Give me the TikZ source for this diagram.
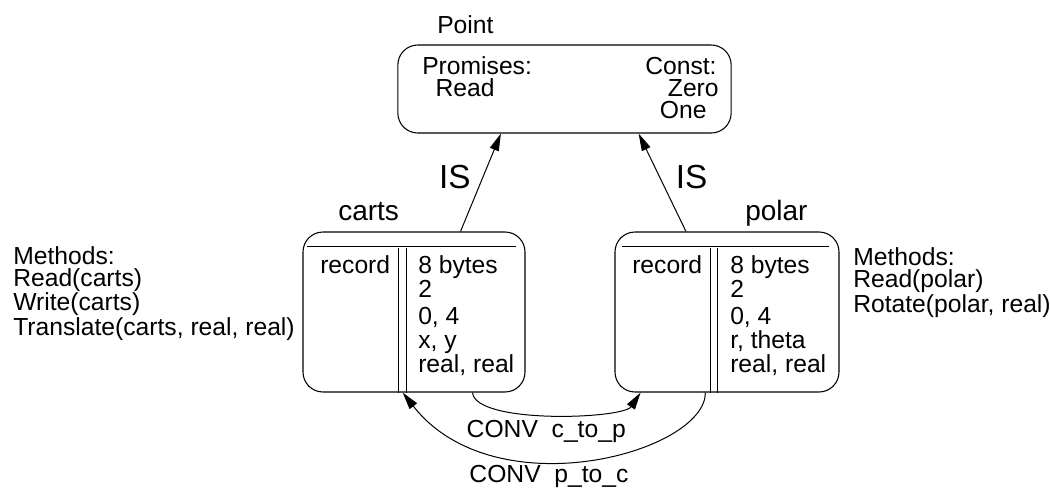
\documentclass[tikz,border=0pt]{standalone}
\usepackage{fontspec}
\setmainfont{Liberation Sans}
\usetikzlibrary{arrows.meta, positioning}

\begin{document}
\begin{tikzpicture}[
    x=0.75pt, y=-0.75pt,
    %% -- Node styles ------------------------------------------------------
    %%
    %% typebox: rounded frame of a type (Point, carts, polar)
    typebox/.style={
        draw,
        rounded corners=15pt,
        line width=0.8pt,
        inner sep=0pt,
        minimum height=120pt,
    },
    %% txt: plain text, placed on its last baseline
    txt/.style={
        inner sep=0pt,
        align=left,
        anchor=base west,
        font=\fontsize{18.5}{16.3}\selectfont,
    },
    boxtxt/.style={txt, font=\fontsize{18.5}{18}\selectfont},
    title/.style={txt, font=\fontsize{21}{24}\selectfont},
    %% -- Edge styles ------------------------------------------------------
    link/.style={
        -{Triangle[length=13pt, width=7pt]},
        line width=0.75pt,
    },
    elabel/.style={inner sep=0pt, font=\fontsize{18.5}{18}\selectfont},
    islabel/.style={inner sep=0pt, font=\fontsize{25}{28}\selectfont},
]
\useasboundingbox (0,0) rectangle (1050,487);

%% -- Place nodes here -----------------------------------------------------

\node[typebox, minimum width=250pt, minimum height=66pt] (Point) at (564.5,89) {};
\node[typebox, minimum width=166.5pt] (carts) at (414,312) {};
\node[typebox, minimum width=168pt]   (polar) at (727,312) {};

\node[txt] (Point_title) at (437,33) {Point};
\node[title] (carts_title) at (338,220) {carts};
\node[title] (polar_title) at (745,220) {polar};

\node[txt] (Point_promises) at (422,96) {Promises:\\\hspace{10pt}Read};
\node[txt] (Point_const) at (645,118) {Const:\\\hspace{17pt}Zero\\\hspace{11pt}One};

%% record layout inside the boxes
\draw[line width=0.8pt] (carts.north west) ++(5,15) -- ++(209,0);
\draw[line width=0.8pt] (carts.south west) ++(96,0) -- ++(0,-145);
\draw[line width=0.8pt] (carts.south west) ++(104,0) -- ++(0,-145);
\draw[line width=0.8pt] (polar.north west) ++(8,15) -- ++(207,0);
\draw[line width=0.8pt] (polar.south west) ++(96,0) -- ++(0,-145);
\draw[line width=0.8pt] (polar.south west) ++(103,0) -- ++(0,-145);

\node[boxtxt] (carts_kind) at (320,273) {record};
\node[boxtxt] (carts_fields) at (418,372) {8 bytes\\2\\[2pt]0, 4\\x, y\\real, real};
\node[boxtxt] (polar_kind) at (632,273) {record};
\node[boxtxt] (polar_fields) at (730,372) {8 bytes\\2\\[2pt]0, 4\\r, theta\\real, real};

\node[txt] (carts_methods) at (13,335) {Methods:\\Read(carts)\\Write(carts)\\Translate(carts, real, real)};
\node[txt] (polar_methods) at (853,312) {Methods:\\Read(polar)\\Rotate(polar, real)};

%% -- Draw edges here ------------------------------------------------------

\draw[link] (carts.60) -- node[islabel, pos=0.56, left=9pt] {IS} (Point.215);
\draw[link] (polar.117) -- node[islabel, pos=0.56, right=12pt] {IS} (Point.329);

\draw[link] (carts.306) to[out=-85, in=236, out distance=24pt, in distance=24pt]
    node[elabel, pos=0.5, below=4pt, xshift=-3.5pt] {CONV\ \ c\_to\_p} (polar.223);
\draw[link] (polar.255) to[out=-90, in=-52, out distance=45pt, in distance=112pt]
    node[elabel, pos=0.6, below=3pt] {CONV\ \ p\_to\_c} (carts.262);

\end{tikzpicture}
\end{document}
